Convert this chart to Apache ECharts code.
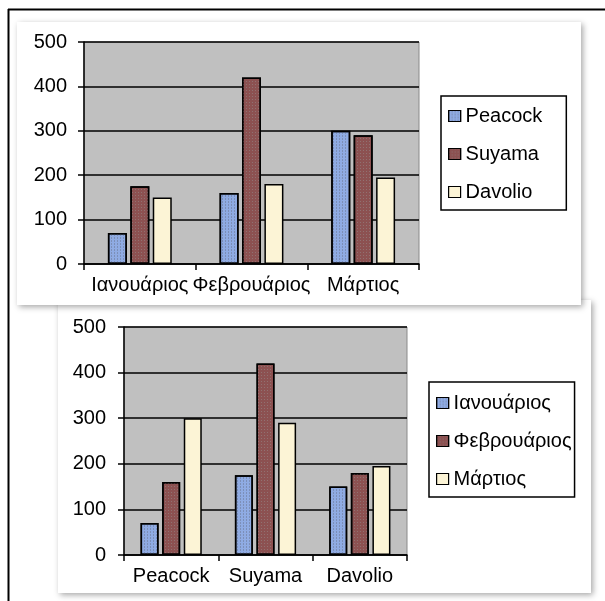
<!DOCTYPE html>
<html>
<head>
<meta charset="utf-8">
<script src="https://cdn.jsdelivr.net/npm/echarts@6/dist/echarts.min.js"></script>
<style>
html,body{margin:0;padding:0;background:#fff;}
#c{width:605px;height:601px;}
</style>
</head>
<body>
<div id="c"></div>
<script>
// ---- data ----
const months = ['Ιανουάριος', 'Φεβρουάριος', 'Μάρτιος'];
const people = ['Peacock', 'Suyama', 'Davolio'];
const peacock = [70, 160, 300];
const suyama = [175, 420, 290];
const davolio = [150, 180, 195];
const yMin = 0, yMax = 500, yStep = 100;

const byPerson = [peacock, suyama, davolio];
const colors = ['#8fabe3', '#8c5151', '#fcf4d6'];
const decals = [
  {symbol: 'rect', symbolSize: 1, color: 'rgba(110,120,150,0.55)', dashArrayX: [1, 2], dashArrayY: [2, 1], rotation: 0},
  {symbol: 'rect', symbolSize: 1, color: 'rgba(150,140,140,0.55)', dashArrayX: [1, 2], dashArrayY: [1, 2], rotation: 0},
  null
];

const FONT = "'Liberation Sans', Arial, sans-serif";
const chart = echarts.init(document.getElementById('c'), null, {renderer: 'canvas'});

function yAx(gi, margin) {
  return {
    type: 'value', gridIndex: gi, min: yMin, max: yMax, interval: yStep,
    axisLine: {show: true, lineStyle: {color: '#000', width: 1.5}},
    axisTick: {show: true, length: 6, lineStyle: {color: '#000', width: 1.5}},
    axisLabel: {color: '#000', fontSize: 20, fontFamily: FONT, margin: margin},
    splitLine: {show: true, lineStyle: {color: '#000', width: 1.5}}
  };
}
function xAx(gi, cats) {
  return {
    type: 'category', gridIndex: gi, data: cats,
    axisLine: {show: true, lineStyle: {color: '#000', width: 1.5}},
    axisTick: {show: true, length: 6, lineStyle: {color: '#000', width: 1.5}},
    axisLabel: {color: '#000', fontSize: 20, fontFamily: FONT, margin: 11, interval: 0},
    splitLine: {show: false}
  };
}

const series = [];
people.forEach((p, i) => {
  const st = {color: colors[i], borderColor: '#000', borderWidth: 1.5};
  if (decals[i]) st.decal = decals[i];
  series.push({
    name: p, type: 'bar', xAxisIndex: 0, yAxisIndex: 0,
    data: byPerson[i], barWidth: 19, barGap: '18%', itemStyle: st
  });
});
months.forEach((m, j) => {
  const st = {color: colors[j], borderColor: '#000', borderWidth: 1.5};
  if (decals[j]) st.decal = decals[j];
  series.push({
    name: m, type: 'bar', xAxisIndex: 1, yAxisIndex: 1,
    data: byPerson.map(arr => arr[j]), barWidth: 18, barGap: '20%', itemStyle: st
  });
});

const legendCommon = {
  orient: 'vertical', itemWidth: 12, itemHeight: 11, itemGap: 18,
  borderColor: '#000', borderWidth: 1.5, backgroundColor: '#fff',
  icon: 'rect',
  itemStyle: {borderColor: '#000', borderWidth: 1.2},
  textStyle: {color: '#000', fontSize: 20, fontFamily: FONT, lineHeight: 20, padding: [0, 0, 0, 0]}
};

chart.setOption({
  animation: false,
  backgroundColor: '#fff',
  graphic: [
    {type: 'rect', z: -20, shape: {x: 58, y: 300, width: 533, height: 293},
     style: {fill: '#fff', shadowBlur: 6, shadowOffsetX: 2, shadowOffsetY: 2, shadowColor: 'rgba(0,0,0,0.35)'}},
    {type: 'rect', z: -19, shape: {x: 17, y: 22, width: 564, height: 283},
     style: {fill: '#fff', shadowBlur: 6, shadowOffsetX: 2, shadowOffsetY: 2, shadowColor: 'rgba(0,0,0,0.35)'}},
    {type: 'line', z: -18, shape: {x1: 8, y1: 9.5, x2: 605, y2: 9.5}, style: {stroke: '#000', lineWidth: 2}},
    {type: 'line', z: -18, shape: {x1: 8.5, y1: 9, x2: 8.5, y2: 601}, style: {stroke: '#000', lineWidth: 2}}
  ],
  grid: [
    {left: 84, top: 42, width: 335, height: 222, show: true, backgroundColor: '#c0c0c0', borderColor: '#8a8a8a', borderWidth: 1},
    {left: 124, top: 327, width: 283, height: 228, show: true, backgroundColor: '#c0c0c0', borderColor: '#8a8a8a', borderWidth: 1}
  ],
  xAxis: [xAx(0, months), xAx(1, people)],
  yAxis: [yAx(0, 17), yAx(1, 18)],
  legend: [
    Object.assign({}, legendCommon, {data: people, left: 441, top: 96, padding: [10, 24, 8, 7]}),
    Object.assign({}, legendCommon, {data: months, left: 429, top: 382, padding: [11, 3, 8, 7]})
  ],
  series: series
});
</script>
</body>
</html>
